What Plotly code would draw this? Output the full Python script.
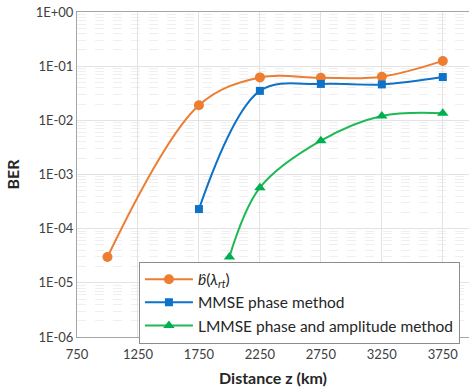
import plotly.graph_objects as go

distance = [1000, 1750, 2250, 2750, 3250, 3750]
ber_b = [3.0e-05, 1.9e-02, 6.2e-02, 6.1e-02, 6.4e-02, 1.25e-01]
dist_mmse = [1750, 2250, 2750, 3250, 3750]
ber_mmse = [2.3e-04, 3.5e-02, 4.7e-02, 4.6e-02, 6.3e-02]
dist_lmmse = [2000, 2250, 2750, 3250, 3750]
ber_lmmse = [3.0e-05, 5.7e-04, 4.2e-03, 1.2e-02, 1.35e-02]

x_ticks = [750, 1250, 1750, 2250, 2750, 3250, 3750]
y_tickvals = [1, 1e-1, 1e-2, 1e-3, 1e-4, 1e-5, 1e-6]
y_ticktext = ["1E+00", "1E-01", "1E-02", "1E-03", "1E-04", "1E-05", "1E-06"]
minor_y = [d * 10.0 ** k for k in range(-6, 0) for d in range(2, 10)]

FONT = "Lato, 'Open Sans', sans-serif"

fig = go.Figure()
fig.add_trace(go.Scatter(
    x=distance, y=ber_b, mode="lines+markers",
    name="<i>b̂</i>(<i>λ</i><sub><i>rt</i></sub>)",
    line=dict(color="#ED7D31", width=2, shape="spline", smoothing=1),
    marker=dict(symbol="circle", size=10, color="#ED7D31")))
fig.add_trace(go.Scatter(
    x=dist_mmse, y=ber_mmse, mode="lines+markers",
    name="MMSE phase method",
    line=dict(color="#0E72C8", width=2, shape="spline", smoothing=1),
    marker=dict(symbol="square", size=8, color="#0E72C8")))
fig.add_trace(go.Scatter(
    x=dist_lmmse, y=ber_lmmse, mode="lines+markers",
    name="LMMSE phase and amplitude method",
    line=dict(color="#1DB954", width=2, shape="spline", smoothing=1),
    marker=dict(symbol="triangle-up", size=10, color="#00B050")))

fig.update_layout(
    width=469, height=388,
    margin=dict(l=77, r=0, t=12, b=51),
    paper_bgcolor="white", plot_bgcolor="white",
    font=dict(family=FONT, color="#404040", size=13),
    showlegend=True,
    legend=dict(x=0.158, y=0.232, xanchor="left", yanchor="top",
                bgcolor="white", bordercolor="#8c8c8c", borderwidth=1,
                font=dict(size=15.5, color="#262626"), tracegroupgap=0,
                itemwidth=48),
)
fig.update_xaxes(
    range=[750, 3965], tickvals=x_ticks,
    showgrid=True, gridcolor="#e3e3e3", gridwidth=1,
    showline=True, linecolor="#a6a6a6", linewidth=1, mirror=True,
    ticks="", zeroline=False, ticklabelstandoff=5,
    title=dict(text="<b>Distance z (km)</b>", font=dict(size=16, color="#262626"), standoff=12),
    tickfont=dict(size=13, color="#404040"))
fig.update_yaxes(
    type="log", range=[-6, 0], tickvals=y_tickvals, ticktext=y_ticktext,
    showgrid=True, gridcolor="#e3e3e3", gridwidth=1,
    minor=dict(tickvals=minor_y, showgrid=True, gridcolor="#efefef", griddash="dash", gridwidth=1),
    showline=True, linecolor="#a6a6a6", linewidth=1, mirror=True,
    ticks="", zeroline=False,
    title=dict(text="<b>BER</b>", font=dict(size=16, color="#262626"), standoff=12),
    tickfont=dict(size=13, color="#404040"))

fig.write_html("out.html")
